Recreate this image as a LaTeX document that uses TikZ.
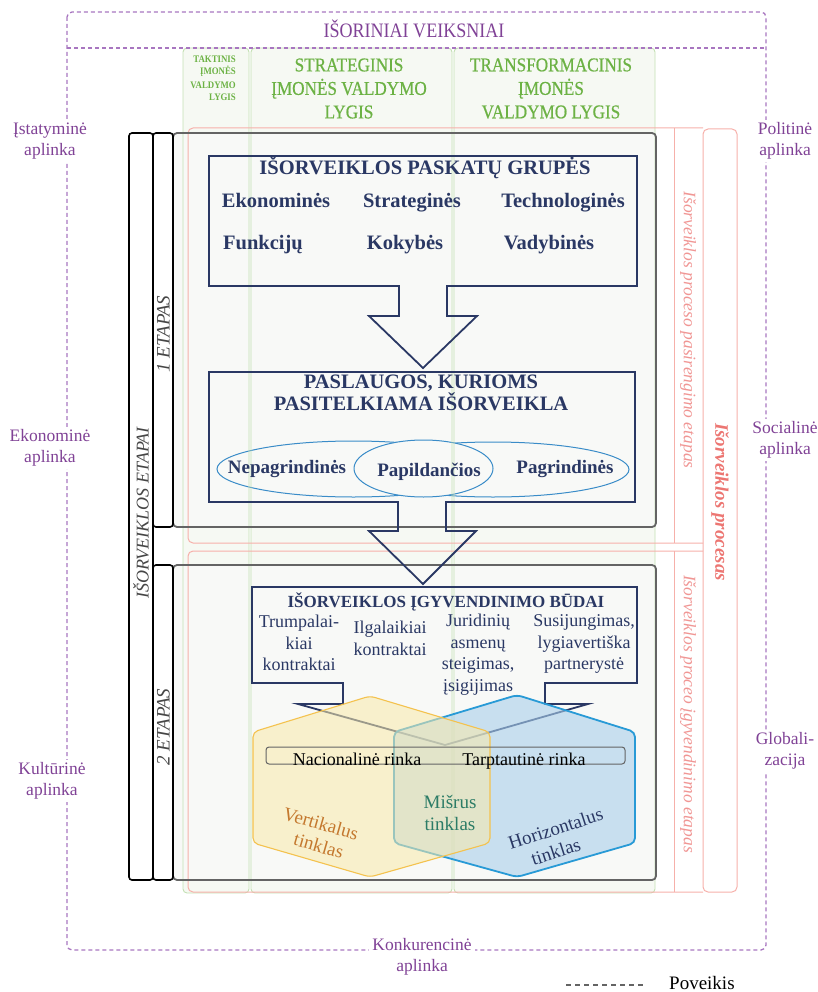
\documentclass[tikz,border=0pt]{standalone}
\usepackage{fontspec}
\setmainfont{Liberation Serif}
\newfontfamily\condfont[FakeStretch=0.88]{Liberation Serif}
\newfontfamily\headfont[FakeStretch=0.88, FakeBold=0.6]{Liberation Serif}
\usetikzlibrary{shapes.geometric}

\definecolor{purpleline}{RGB}{168,118,192}
\definecolor{purpletext}{RGB}{128,66,150}
\definecolor{greenline}{RGB}{196,224,180}
\definecolor{greenfill}{RGB}{246,249,243}
\definecolor{greentext}{RGB}{108,178,68}
\definecolor{pinkline}{RGB}{246,176,170}
\definecolor{pinktext}{RGB}{240,150,148}
\definecolor{pinkbold}{RGB}{236,118,114}
\definecolor{stagegray}{RGB}{100,100,100}
\definecolor{stagefill}{RGB}{248,249,247}
\definecolor{navy}{RGB}{42,56,100}
\definecolor{ellblue}{RGB}{58,140,200}
\definecolor{hexyfill}{RGB}{248,233,170}
\definecolor{hexyline}{RGB}{244,194,78}
\definecolor{hexbfill}{RGB}{168,206,234}
\definecolor{hexbline}{RGB}{40,154,214}
\definecolor{vertc}{RGB}{196,120,46}
\definecolor{mixc}{RGB}{44,124,102}
\definecolor{bargray}{RGB}{70,70,70}

\newcommand{\fsz}[2]{\fontsize{#1}{#2}\selectfont}

\begin{document}
\begin{tikzpicture}[x=1pt,y=-1pt,
  every node/.style={inner sep=0pt},
  purpledash/.style={draw=purpleline, line width=1.3pt, dash pattern=on 4pt off 3pt},
  greencol/.style={draw=greenline, line width=0.9pt, rounded corners=4pt},
  pinkbox/.style={draw=pinkline, line width=1pt},
  stagebox/.style={draw=stagegray, line width=1.8pt, rounded corners=4pt},
  barbox/.style={draw=black, line width=1.6pt, fill=white, rounded corners=3pt},
  navyshape/.style={draw=navy, line width=1.8pt, line join=miter},
  ellbox/.style={ellipse, draw=ellblue, line width=1pt},
  envlabel/.style={text=purpletext, fill=white, align=center, font=\fsz{17.5}{21}, inner sep=3pt},
  greenhead/.style={text=greentext, align=center, font=\headfont\fsz{19.5}{23.5}},
  navybold/.style={text=navy, font=\bfseries\fsz{20.5}{20}},
  navyitem/.style={text=navy, font=\bfseries\fsz{19}{21}},
  wayitem/.style={text=navy, align=center, font=\fsz{18}{21.5}},
  pinkrot/.style={text=pinktext, font=\itshape\fsz{17.5}{20}, rotate=-90},
  barlabel/.style={text=bargray, font=\itshape\fsz{19}{20}, rotate=90},
  nettext/.style={font=\fsz{19}{22}, align=center}]
\useasboundingbox (0,0) rectangle (817,992);

% stage backgrounds
\fill[stagefill, rounded corners=4pt] (173,133) rectangle (656,527);
\fill[stagefill, rounded corners=4pt] (173,565) rectangle (656,880);

% management level columns (fill)
\fill[greenfill, rounded corners=4pt] (183,48) rectangle (249,893);
\fill[greenfill, rounded corners=4pt] (251,48) rectangle (452,893);
\fill[greenfill, rounded corners=4pt] (454,48) rectangle (655,893);
\fill[stagefill] (183,134) rectangle (655,526);
\fill[stagefill] (183,566) rectangle (655,879);

% service ellipses
\node[ellbox, minimum width=273pt, minimum height=56pt] (ellL) at (353.5,469) {};
\node[ellbox, minimum width=272pt, minimum height=55pt] (ellR) at (493,469.5) {};
\node[ellbox, fill=stagefill, minimum width=139pt, minimum height=57pt] (ellM) at (423.5,468.5) {};

% management level columns (outline)
\draw[greencol] (183,48) rectangle (249,893);
\draw[greencol] (251,48) rectangle (452,893);
\draw[greencol] (454,48) rectangle (655,893);

% process stages
\draw[pinkbox, rounded corners=5pt] (703,128) -- (188,128) -- (188,543) -- (703,543);
\draw[pinkbox] (674,128) -- (674,543);
\draw[pinkbox, rounded corners=5pt] (703,551) -- (188,551) -- (188,892) -- (703,892);
\draw[pinkbox] (674,551) -- (674,892);
\draw[pinkbox, rounded corners=5pt] (703,129) rectangle (737,892);

% stage frames
\draw[stagebox] (173,133) rectangle (656,527);
\draw[stagebox] (173,565) rectangle (656,880);

% stage bars
\draw[barbox] (129,133) rectangle (153,880);
\draw[barbox] (153,133) rectangle (173,527);
\draw[barbox] (153,565) rectangle (173,880);

% arrow boxes
\draw[navyshape] (209,156) -- (637,156) -- (637,286) -- (447,286) -- (447,316) -- (477,316)
  -- (423,368) -- (369,316) -- (399,316) -- (399,286) -- (209,286) -- cycle;
\draw[navyshape] (209,372) -- (635,372) -- (635,502) -- (446,502) -- (446,531) -- (476,531)
  -- (423,584) -- (369,531) -- (398,531) -- (398,502) -- (209,502) -- cycle;
\draw[navyshape] (252,587) -- (637,587) -- (637,683) -- (545,683) -- (545,704) -- (588,704)
  -- (445,745) -- (298,704) -- (343,704) -- (343,683) -- (252,683) -- cycle;

% network hexagons
\draw[draw=hexbline, line width=1.8pt, fill=hexbfill, fill opacity=0.6, rounded corners=5pt]
  (517,695) -- (635,732) -- (635,843) -- (517,877) -- (394,843) -- (394,732) -- cycle;
\draw[draw=hexyline, line width=1.1pt, fill=hexyfill, fill opacity=0.55, rounded corners=5pt]
  (370,696) -- (490,732) -- (490,843) -- (370,877) -- (253,843) -- (253,732) -- cycle;

% market bar
\draw[draw=stagegray, line width=1pt, rounded corners=3pt] (266,747) rectangle (625,764);

% outer frame of external factors
\draw[purpledash, rounded corners=5pt] (67,12) rectangle (766,950);
\draw[purpledash] (67,48) -- (766,48);

% headings
\node[text=purpletext, font=\condfont\fsz{20.5}{22}, anchor=base] (ext) at (414,38) {IŠORINIAI VEIKSNIAI};
\node[greenhead] (strat) at (349,88.5) {STRATEGINIS\\ĮMONĖS VALDYMO\\LYGIS};
\node[greenhead] (transf) at (551,88.5) {TRANSFORMACINIS\\ĮMONĖS\\VALDYMO LYGIS};
\node[text=greentext, align=right, anchor=east, font=\bfseries\condfont\fsz{10}{11.5}] (takt) at (236,78)
  {TAKTINIS\\ĮMONĖS\\[3pt]VALDYMO\\LYGIS};

% environment labels
\node[envlabel] (envA) at (50,141) {Įstatyminė\\aplinka};
\node[envlabel] (envB) at (50,448) {Ekonominė\\aplinka};
\node[envlabel] (envC) at (52,781) {Kultūrinė\\aplinka};
\node[envlabel] (envD) at (785,141) {Politinė\\aplinka};
\node[envlabel] (envE) at (785,440) {Socialinė\\aplinka};
\node[envlabel] (envF) at (785,751) {Globali-\\zacija};
\node[envlabel] (envG) at (422,957) {Konkurencinė\\aplinka};

% stage bar labels
\node[barlabel, font=\itshape\fsz{18}{20}] (etapai) at (141,513) {IŠORVEIKLOS ETAPAI};
\node[barlabel] (et1) at (163.5,334) {1 ETAPAS};
\node[barlabel] (et2) at (163.5,727) {2 ETAPAS};

% process labels
\node[pinkrot] (prep) at (688,330) {Išorveiklos proceso pasirengimo etapas};
\node[pinkrot] (impl) at (688,714) {Išorveiklos proceo įgyvendinimo etapas};
\node[text=pinkbold, font=\bfseries\itshape\fsz{19}{20}, rotate=-90] (proc) at (720,502) {Išorveiklos procesas};

% incentive groups
\node[navybold, anchor=base] (grp) at (425,175) {IŠORVEIKLOS PASKATŲ GRUPĖS};
\node[navybold, anchor=base] (g1) at (276,208) {Ekonominės};
\node[navybold, anchor=base] (g2) at (412,208) {Strateginės};
\node[navybold, anchor=base] (g3) at (563,208) {Technologinės};
\node[navybold, anchor=base] (g4) at (263,249) {Funkcijų};
\node[navybold, anchor=base] (g5) at (405,249) {Kokybės};
\node[navybold, anchor=base] (g6) at (549,249) {Vadybinės};

% outsourced services
\node[navybold, align=center] (serv) at (421,393) {PASLAUGOS, KURIOMS\\PASITELKIAMA IŠORVEIKLA};
\node[navyitem, anchor=base] (s1) at (287,473) {Nepagrindinės};
\node[navyitem, anchor=base] (s2) at (429,476) {Papildančios};
\node[navyitem, anchor=base] (s3) at (565,473) {Pagrindinės};

% implementation ways
\node[text=navy, font=\bfseries\fsz{17}{20}, anchor=base] (ways) at (446,607) {IŠORVEIKLOS ĮGYVENDINIMO BŪDAI};
\node[wayitem] (w1) at (299,643) {Trumpalai-\\kiai\\kontraktai};
\node[wayitem] (w2) at (390,638.5) {Ilgalaikiai\\kontraktai};
\node[wayitem] (w3) at (478,654.5) {Juridinių\\asmenų\\steigimas,\\įsigijimas};
\node[wayitem] (w4) at (584,644) {Susijungimas,\\lygiavertiška\\partnerystė};

% markets
\node[font=\fsz{18}{20}, anchor=base] (nat) at (357,765) {Nacionalinė rinka};
\node[font=\fsz{18}{20}, anchor=base] (intl) at (524,765) {Tarptautinė rinka};

% network types
\node[nettext, text=vertc, rotate=-16] (vert) at (318,834) {Vertikalus\\\kern8pt tinklas};
\node[nettext, text=mixc] (mix) at (450,813) {Mišrus\\tinklas};
\node[nettext, text=navy, rotate=18] (horiz) at (559,839) {Horizontalus\\tinklas\kern14pt};

% legend
\coordinate (legA) at (566,985);
\coordinate (legB) at (646,985);
\draw[draw=stagegray, line width=1.2pt, dash pattern=on 5pt off 4pt] (legA) -- (legB);
\node[font=\fsz{19}{20}, anchor=base west] (legT) at (669,989) {Poveikis};

\end{tikzpicture}
\end{document}
